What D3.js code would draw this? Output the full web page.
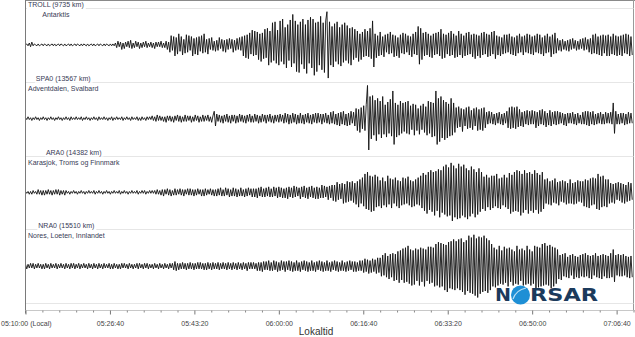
<!DOCTYPE html>
<html><head><meta charset="utf-8">
<script src="https://cdn.jsdelivr.net/npm/d3@7"></script>
<style>body{margin:0;background:#fff}svg{display:block}</style>
</head><body>
<svg id="c" width="635" height="337"></svg>
<script>
const stations = ["TROLL", "SPA0", "ARA0", "NRA0"];
const distancesKm = [9735, 13567, 14382, 15510];
const locations = ["Antarktis", "Adventdalen, Svalbard", "Karasjok, Troms og Finnmark", "Nores, Loeten, Innlandet"];
const sampleSeconds = 15;
const tickSeconds = [0, 1000, 2000, 3000, 4000, 5000, 6000, 7000];
const tickLabels = ["05:10:00 (Local)", "05:26:40", "05:43:20", "06:00:00", "06:16:40", "06:33:20", "06:50:00", "07:06:40"];
const axisTitle = "Lokaltid";

const trollTrace = [
0,1,-1,2,-2,3,-1,1,0,-1, 1,-1,0,1,-1,1,0,-1,1,-1, 0,1,-1,1,-1,0,1,-1,1,0, -1,1,-1,0,1,-1,1,-1,0,1,
-1,1,0,-1,1,-1,1,0,-1,1, -1,0,1,-1,1,-1,0,1,-1,1, 0,-1,1,-1,1,0,-1,1,-1,1, -1,2,-3,4,-2,3,-5,2,-4,3,
-2,4,-3,5,-4,2,-3,4,-2,3, -4,2,-3,3,-2,4,-3,2,-2,3, -3,2,-4,3,-2,3,-2,4,-3,2, -3,4,-5,3,-8,10,-6,9,-12,8,
-10,12,-7,9,-11,6,-9,11,-8,10, -6,9,-12,7,-10,8,-11,9,-7,10, -9,12,-8,6,-10,7,-5,8,-6,4, -7,5,-6,8,-4,6,-7,5,-8,6,
-5,7,-4,6,-8,5,-6,7,-5,8, -6,9,-12,10,-14,11,-15,13,-10,16, -12,15,-11,14,-16,12,-18,13,-15,17, -14,18,-22,15,-19,24,-17,25,-20,16,
-22,26,-18,28,-21,19,-25,22,-17,27, -24,33,-20,26,-29,22,-30,25,-21,28, -26,22,-31,27,-20,30,-25,28,-33,24, -29,25,-22,31,-27,24,-30,26,36,-36,
25,-22,20,-24,23,-18,25,-21,19,-23, 22,-19,24,-17,21,-20,18,-22,19,-16, 17,-14,15,-18,12,-16,14,-13,17,-12, 15,-13,18,-15,26,-24,12,-14,10,-12,
14,-11,9,-13,11,-8,12,-10,14,-9, 11,-13,10,-12,8,-14,11,-9,13,-10, 12,-8,10,-11,9,-13,12,-10,14,-11, 20,-21,18,-16,13,-12,14,-11,12,-13,
10,-14,12,-11,13,-10,14,-12,17,-15, 12,-14,11,-10,13,-12,15,-11,12,-14, 10,-13,15,-11,12,-14,10,-12,13,-11, 14,-10,11,-13,12,-15,11,-12,10,-14,
13,-11,14,-10,12,-13,11,-12,14,-10, 15,-15,10,-11,9,-12,8,-10,11,-9, 11,-8,12,-10,9,-11,8,-12,10,-9, 12,-8,9,-11,10,-8,12,-9,11,-10,
9,-11,10,-8,12,-9,11,-10,8,-12, 10,-9,12,-8,9,-13,11,-10,13,-9, 7,-6,5,-7,6,-5,4,-6,5,-7, 6,-5,7,-4,5,-6,4,-5,6,-4,
7,-6,8,-5,6,-8,7,-10,11,-9, 12,-10,9,-11,10,-12,11,-9,10,-12, 11,-12,9,-10,12,-11,10,-12,9,-11, 10,-12,11,-9,12,-10,11,-12,9,-11];

const spa0Trace = [
1,-1,2,-1,1,-2,1,-1,2,-1, 1,-2,1,-1,2,-1,1,-2,1,-1, 2,-1,1,-2,1,-1,2,-1,1,-2, 1,-1,2,-1,1,-2,2,-1,1,-1,
2,-1,1,-1,2,-2,1,-1,2,-1, 1,-2,1,-1,2,-1,1,-2,2,-1, 1,-1,2,-1,1,-2,1,-1,2,-2, 1,-1,2,-1,1,-1,2,-2,1,-1,
2,-1,1,-2,2,-1,1,-1,2,-2, 1,-2,2,-1,1,-2,2,-1,2,-1, 3,-2,2,-3,4,-2,3,-2,2,-3, 2,-4,3,-2,3,-3,2,-4,3,-2,
4,-3,3,-4,2,-3,4,-3,3,-2, 3,-4,2,-3,4,-2,3,-4,2,-3, 4,-3,3,-2,4,-3,2,-4,3,8, -8,5,-3,4,-4,3,-5,4,-3,5,
-4,3,-5,4,-3,4,-5,3,-4,5, -3,4,-4,3,-5,4,-3,5,-4,3, -4,5,-3,4,-5,3,-4,5,-3,4, -5,4,-3,5,-4,3,-5,4,-3,4,
-4,5,-3,4,-5,6,-4,5,-6,4, -5,6,-4,5,-6,4,-5,6,-5,4, -6,5,-4,6,-5,4,-6,5,-4,6, -5,6,-4,5,-6,5,-4,6,-5,4,
-6,7,-5,8,-6,5,-7,6,-8,7, -6,8,-7,5,-8,6,-7,8,-5,7, -8,11,-13,10,-15,12,-11,14,-13,15, 36,-34,24,-22,25,-18,20,-24,22,-17,
19,-21,24,-17,15,-20,18,-16,21,-19, 30,-28,17,-20,15,-18,19,-16,17,-14, 18,-16,19,-17,14,-12,16,-18,15,-13, 11,-17,14,-12,16,-15,13,-18,19,-16,
18,-20,17,-19,30,-28,22,-25,24,-21, 20,-23,18,-21,16,-19,22,-18,17,-15, 12,-10,13,-9,11,-14,10,-8,12,-11, 13,-10,9,-12,11,-8,12,-13,10,-12,
11,-13,12,-10,7,-6,8,-5,7,-6, 5,-7,6,-5,7,-6,5,-7,6,-5, 8,-10,12,-11,13,-10,12,-11,13,-9, 10,-8,7,-9,8,-6,9,-7,8,-6,
9,-6,8,-10,7,-8,9,-6,10,-7, 8,-9,6,-7,9,-8,7,-6,8,-7, 8,-6,7,-5,6,-7,5,-8,6,-5, 6,-5,7,-6,5,-7,6,-5,4,-6,
7,-6,8,-7,8,-8,7,-6,8,-7, 5,-6,6,-5,7,-6,5,-6,7,-5, 6,-5,7,-6,17,-16,8,-6,5,-6, 6,-5,6,-7,5,-6,7,-5,6,-5];

const ara0Trace = [
1,-1,1,-2,1,-2,2,-1,1,-2, 3,-2,2,-3,2,-3,2,-2,3,-2, 2,-3,2,-2,3,-2,3,-3,2,-2, 2,-3,2,-1,1,-2,1,-1,2,-1,
1,-2,1,-1,2,-1,1,-2,1,-1, 2,-1,1,-1,2,-2,1,-1,2,-1, 1,-2,1,-1,2,-1,1,-2,1,-1, 2,-1,1,-1,2,-2,1,-1,2,-1,
1,-2,1,-1,2,-1,1,-1,2,-2, 1,-1,2,-1,2,-2,1,-1,2,-1, 2,-1,2,-2,3,-2,2,-3,3,-4, 3,-2,4,-3,3,-4,2,-3,4,-3,
3,-2,4,-3,3,-4,3,-2,4,-3, 4,-3,3,-4,3,-3,4,-2,3,-4, 3,-4,4,-3,3,-2,4,-3,3,-4, 3,-4,4,-3,5,-4,3,-4,5,-3,
4,-5,3,-4,5,-4,4,-5,3,-4, 5,-4,3,-5,4,-4,5,-3,4,-5, 4,-5,4,-6,5,-4,6,-5,4,-5, 5,-4,6,-5,4,-5,6,-4,5,-6,
6,-5,5,-6,4,-6,5,-7,6,-5, 5,-6,7,-5,6,-4,5,-7,6,-5, 7,-6,5,-7,6,-5,7,-6,5,-7, 6,-7,5,-6,8,-6,7,-5,6,-8,
7,-6,8,-9,8,-10,11,-8,9,-7, 10,-12,9,-11,12,-10,11,-9,12,-11, 10,-13,12,-16,14,-12,16,-15,20,-18, 22,-19,18,-21,17,-20,19,-16,17,-15,
13,-17,16,-14,12,-16,18,-13,15,-17, 14,-12,16,-15,13,-17,12,-14,16,-13, 15,-12,17,-14,13,-16,12,-15,14,-13, 16,-14,18,-17,21,-20,19,-23,22,-19,
24,-21,22,-25,23,-20,25,-27,24,-22, 28,-24,30,-26,27,-25,32,-31,29,-27, 26,-29,31,-28,28,-25,30,-27,26,-29, 24,-26,28,-23,25,-27,22,-24,26,-21,
22,-18,17,-20,19,-16,16,-19,18,-17, 18,-15,20,-17,15,-18,16,-14,19,-16, 16,-18,21,-23,19,-21,22,-20,24,-21, 23,-25,20,-22,24,-19,21,-23,22,-20,
20,-22,24,-19,21,-23,19,-21,22,-18, 14,-12,15,-13,12,-14,13,-11,15,-12, 11,-14,12,-10,13,-11,12,-13,10,-12, 14,-12,10,-13,11,-12,13,-10,12,-11,
12,-15,14,-16,13,-17,15,-14,16,-13, 15,-18,20,-19,17,-16,18,-15,14,-16, 14,-12,10,-11,9,-12,10,-8,11,-9, 10,-11,9,-12,8,-10,11,-9,10,-8];

const nra0Trace = [
2,-3,2,-2,3,-2,3,-3,2,-2, 3,-2,2,-3,2,-3,3,-2,2,-3, 3,-2,2,-2,3,-3,2,-2,3,-2, 2,-3,3,-2,2,-3,3,-2,3,-3,
2,-2,3,-3,2,-2,3,-2,2,-3, 3,-2,2,-3,3,-2,2,-3,3,-2, 2,-3,3,-2,2,-2,3,-3,2,-3, 3,-2,2,-3,2,-3,3,-2,3,-2,
2,-3,3,-2,2,-3,2,-2,3,-3, 3,-2,2,-3,3,-2,3,-3,2,-2, 2,-3,3,-2,2,-3,3,-2,2,-3, 3,-2,2,-3,3,-2,3,-4,5,-5,
3,-4,3,-3,4,-3,3,-4,3,-3, 4,-3,3,-4,3,-3,4,-3,4,-3, 3,-4,3,-4,4,-3,3,-4,4,-3, 3,-3,4,-4,3,-3,4,-3,3,-4,
4,-3,3,-4,4,-3,3,-4,4,-3, 3,-4,4,-3,3,-5,4,-3,4,-3, 4,-3,3,-5,4,-5,4,-6,5,-4, 5,-4,6,-5,4,-5,6,-4,5,-6,
4,-5,6,-4,5,-6,5,-4,6,-5, 5,-6,4,-5,6,-5,4,-6,5,-4, 6,-5,5,-6,4,-5,6,-5,4,-6, 5,-4,6,-5,5,-6,4,-5,6,-5,
4,-6,5,-4,6,-5,5,-6,4,-5, 6,-5,4,-6,5,-5,6,-4,5,-6, 5,-6,4,-5,6,-5,6,-7,8,-6, 7,-8,6,-7,8,-6,7,-8,9,-7,
9,-11,12,-10,14,-12,11,-14,13,-12, 14,-16,13,-15,16,-18,17,-15,19,-18, 20,-17,22,-19,18,-21,17,-20,19,-16, 18,-21,20,-17,19,-22,18,-16,21,-19,
21,-18,20,-22,24,-21,26,-23,25,-22, 24,-26,23,-28,26,-24,27,-25,29,-26, 27,-24,29,-26,30,-28,26,-31,28,-27, 33,-29,31,-30,34,-32,30,-34,32,-30,
31,-28,33,-27,30,-29,28,-26,24,-22, 20,-23,18,-21,22,-19,17,-20,21,-18, 19,-22,20,-17,18,-21,16,-19,22,-20, 18,-16,19,-21,17,-20,22,-19,18,-21,
16,-19,22,-24,21,-23,20,-22,24,-21, 25,-20,22,-21,23,-24,21,-22,20,-19, 18,-14,12,-15,13,-11,14,-12,10,-13, 12,-10,13,-14,11,-12,10,-13,12,-11,
13,-12,14,-11,12,-13,11,-14,12,-10, 14,-12,11,-13,12,-14,13,-11,12,-13, 11,-13,14,-12,18,-17,12,-10,13,-11, 12,-11,13,-10,11,-12,10,-13,11,-12];

const traces = [trollTrace, spa0Trace, ara0Trace, nra0Trace];

const svg = d3.select("#c");
const W = 635;
const plotLeft = 25.5, plotRight = 633.5, plotTop = 8, plotBottom = 303, axisY = 310.5;

const x = d3.scaleLinear().domain([0, 7200]).range([plotLeft, plotRight]);
const band = d3.scaleBand().domain(stations).range([plotTop, plotBottom]);
const amp = d3.scaleLinear().domain([-40, 40]).range([band.bandwidth() / 2, -band.bandwidth() / 2]);

// frame
svg.append("line").attr("x1", plotLeft).attr("x2", W).attr("y1", 0.5).attr("y2", 0.5).attr("stroke", "#8a8a8a");
svg.append("line").attr("x1", plotRight).attr("x2", plotRight).attr("y1", 0).attr("y2", axisY).attr("stroke", "#9a9a9a");

// grid lines
const gridYs = stations.map(s => band(s)).concat([plotBottom]);
svg.append("g").selectAll("line").data(gridYs).join("line")
  .attr("x1", plotLeft).attr("x2", plotRight)
  .attr("y1", d => Math.round(d) + 0.5).attr("y2", d => Math.round(d) + 0.5)
  .attr("stroke", "#e6e6e6");

// traces
const line = d3.line().x((d, i) => x(i * sampleSeconds)).y(d => amp(d));
stations.forEach((s, k) => {
  const cy = band(s) + band.bandwidth() / 2;
  svg.append("path")
    .datum(traces[k])
    .attr("transform", `translate(0,${cy})`)
    .attr("d", line)
    .attr("fill", "none")
    .attr("stroke", "#111")
    .attr("stroke-width", 0.9);
});

// station labels
stations.forEach((s, k) => {
  const t = band(s);
  const g = svg.append("g").attr("font-family", "'Liberation Sans', Arial, sans-serif").attr("font-size", 7).attr("fill", "#383b55");
  const l1 = g.append("text").text(`${s} (${distancesKm[k]} km)`).attr("y", t - 1);
  const l2 = g.append("text").text(locations[k]).attr("y", t + 9);
  const w1 = l1.node().getComputedTextLength(), w2 = l2.node().getComputedTextLength();
  const wm = Math.max(w1, w2), cx = 28 + wm / 2;
  l1.attr("x", cx - w1 / 2); l2.attr("x", cx - w2 / 2);
  g.insert("rect", "text").attr("x", cx - w1 / 2 - 1).attr("y", t - 7).attr("width", w1 + 3).attr("height", 8).attr("fill", "#fff");
  g.insert("rect", "text").attr("x", cx - w2 / 2 - 1).attr("y", t + 2).attr("width", w2 + 3).attr("height", 8).attr("fill", "#fff");
});

// left axis line
svg.append("line").attr("x1", plotLeft).attr("x2", plotLeft).attr("y1", 0).attr("y2", axisY + 3).attr("stroke", "#7a7a7a");

// x axis
svg.append("line").attr("x1", plotLeft).attr("x2", W).attr("y1", axisY).attr("y2", axisY).attr("stroke", "#c8c8c8");
const minor = d3.range(0, 7201, 200).filter(v => v % 1000 !== 0);
const gMinor = svg.append("g").attr("transform", `translate(0,${axisY})`)
  .call(d3.axisBottom(x).tickValues(minor).tickSize(2).tickFormat(""));
gMinor.select(".domain").remove();
gMinor.selectAll("line").attr("stroke", "#888");
const gAxis = svg.append("g").attr("transform", `translate(0,${axisY})`)
  .call(d3.axisBottom(x).tickValues(tickSeconds).tickSize(4).tickPadding(7).tickFormat((d, i) => tickLabels[i]));
gAxis.select(".domain").remove();
gAxis.selectAll("line").attr("stroke", "#777");
gAxis.selectAll("text").attr("font-family", "'Liberation Sans', Arial, sans-serif").attr("font-size", 7).attr("fill", "#444");
gAxis.selectAll("text").filter((d, i) => i === 0).attr("text-anchor", "start").attr("x", -plotLeft + 0.5);

svg.append("text").text(axisTitle).attr("x", 316).attr("y", 335).attr("text-anchor", "middle")
  .attr("font-family", "'Liberation Sans', Arial, sans-serif").attr("font-size", 10).attr("fill", "#333");

// NORSAR logo
const logo = svg.append("g").attr("font-family", "'DejaVu Sans', sans-serif").attr("font-weight", 900).attr("font-size", 18).attr("fill", "#1b3a5c");
logo.append("text").text("N").attr("x", 495).attr("y", 301).attr("textLength", 16).attr("lengthAdjust", "spacingAndGlyphs");
logo.append("circle").attr("cx", 520.5).attr("cy", 295).attr("r", 9.5).attr("fill", "#1e8fd5");
logo.append("path").attr("d", "M513,299 Q516,290 526,288").attr("fill", "none").attr("stroke", "#fff").attr("stroke-width", 1.2).attr("opacity", 0.7);
logo.append("text").text("RSAR").attr("x", 530).attr("y", 301).attr("textLength", 68).attr("lengthAdjust", "spacingAndGlyphs");
</script>
</body></html>
